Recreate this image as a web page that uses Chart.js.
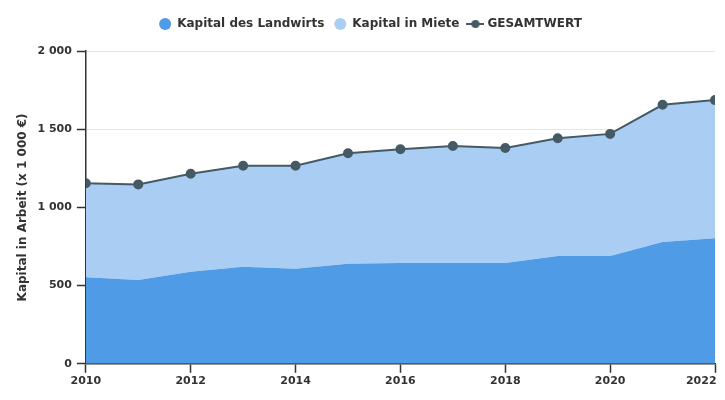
<!DOCTYPE html>
<html lang="de">
<head>
    <meta charset="UTF-8">
    <title>Kapital in Arbeit</title>
    <style>
        body {
            margin: 0;
            padding: 0;
        }
        #wrap {
            width: 725px;
            height: 400px;
        }
    </style>
    <script src="https://cdn.jsdelivr.net/npm/chart.js@4/dist/chart.umd.min.js"></script>
</head>
<body>
<div id="wrap">
    <canvas id="chart"></canvas>
</div>
<script>
    var years = [2010, 2011, 2012, 2013, 2014, 2015, 2016, 2017, 2018, 2019, 2020, 2021, 2022];
    var kapitalLandwirt = [553, 536, 588, 620, 607, 639, 645, 645, 645, 690, 690, 778, 803];
    var kapitalMiete = [601, 611, 627, 646, 659, 707, 727, 748, 735, 752, 780, 878, 883];
    var gesamtwert = [1154, 1147, 1215, 1266, 1266, 1346, 1372, 1393, 1380, 1442, 1470, 1656, 1686];
    var yTicks = [0, 500, 1000, 1500, 2000];

    var dark = '#333333';
    var lineColor = '#455a64';

    function pts(values) {
        return values.map(function (v, i) { return { x: years[i], y: v }; });
    }

    function fmt(n) {
        return String(n).replace(/\B(?=(\d{3})+(?!\d))/g, ' ');
    }

    // Legendensymbol: Linie mit Punkt
    var lineIcon = document.createElement('canvas');
    lineIcon.width = 18;
    lineIcon.height = 10;
    var ic = lineIcon.getContext('2d');
    ic.strokeStyle = lineColor;
    ic.lineWidth = 2;
    ic.beginPath();
    ic.moveTo(0, 5);
    ic.lineTo(18, 5);
    ic.stroke();
    ic.fillStyle = lineColor;
    ic.beginPath();
    ic.arc(9, 5, 4, 0, Math.PI * 2);
    ic.fill();

    // etwas mehr Abstand unter der Legende
    var legendGap = {
        id: 'legendGap',
        beforeInit: function (chart) {
            var fit = chart.legend.fit;
            chart.legend.fit = function () {
                fit.bind(chart.legend)();
                this.height += 11;
            };
        }
    };

    Chart.defaults.font.family = '"DejaVu Sans", sans-serif';
    Chart.defaults.font.weight = 'bold';
    Chart.defaults.color = dark;

    new Chart(document.getElementById('chart'), {
        type: 'line',
        plugins: [legendGap],
        data: {
            datasets: [
                {
                    label: 'Kapital des Landwirts',
                    data: pts(kapitalLandwirt),
                    stack: 'kapital',
                    fill: 'origin',
                    backgroundColor: '#4f9be5',
                    borderColor: '#4f9be5',
                    borderWidth: 0,
                    pointRadius: 0,
                    pointStyle: 'circle',
                    order: 1
                },
                {
                    label: 'Kapital in Miete',
                    data: pts(kapitalMiete),
                    stack: 'kapital',
                    fill: '-1',
                    backgroundColor: '#aacef3',
                    borderColor: '#aacef3',
                    borderWidth: 0,
                    pointRadius: 0,
                    pointStyle: 'circle',
                    order: 1
                },
                {
                    label: 'GESAMTWERT',
                    data: pts(gesamtwert),
                    stack: 'gesamt',
                    fill: false,
                    borderColor: lineColor,
                    backgroundColor: lineColor,
                    borderWidth: 2,
                    pointRadius: 4,
                    pointHoverRadius: 5,
                    pointStyle: 'circle',
                    order: 0
                }
            ]
        },
        options: {
            responsive: true,
            maintainAspectRatio: false,
            animation: false,
            layout: { padding: { left: 16, right: 0, top: 8, bottom: 10 } },
            plugins: {
                legend: {
                    position: 'top',
                    labels: {
                        usePointStyle: true,
                        boxHeight: 8.5,
                        padding: 10,
                        font: { size: 12, weight: 'bold' },
                        sort: function (a, b) { return a.datasetIndex - b.datasetIndex; },
                        generateLabels: function (chart) {
                            var items = Chart.defaults.plugins.legend.labels.generateLabels(chart);
                            items.forEach(function (it) {
                                var ds = chart.data.datasets[it.datasetIndex];
                                if (it.datasetIndex === 2) {
                                    it.pointStyle = lineIcon;
                                } else {
                                    it.fillStyle = ds.backgroundColor;
                                    it.strokeStyle = ds.backgroundColor;
                                    it.lineWidth = 0;
                                }
                            });
                            return items;
                        }
                    }
                },
                tooltip: { enabled: true }
            },
            scales: {
                x: {
                    type: 'linear',
                    min: 2010,
                    max: 2022,
                    afterBuildTicks: function (s) {
                        s.ticks = years.filter(function (y) { return y % 2 === 0; }).map(function (y) { return { value: y }; });
                    },
                    afterFit: function (s) {
                        s.paddingRight = 10;
                    },
                    ticks: {
                        font: { size: 11, weight: 'bold' },
                        padding: 2,
                        maxRotation: 0,
                        callback: function (v) {
                            return v === 2022 ? '2022\u2003\u2003\u2002' : String(v);
                        }
                    },
                    grid: {
                        drawOnChartArea: false,
                        drawTicks: true,
                        tickLength: 9,
                        tickColor: dark,
                        tickWidth: 1.5
                    },
                    border: { color: dark, width: 1.5 }
                },
                y: {
                    stacked: true,
                    min: 0,
                    max: 2000,
                    afterBuildTicks: function (s) {
                        s.ticks = yTicks.map(function (v) { return { value: v }; });
                    },
                    ticks: {
                        font: { size: 11, weight: 'bold' },
                        padding: 5,
                        callback: function (v) { return fmt(v); }
                    },
                    grid: {
                        color: '#e6e6e6',
                        tickColor: dark,
                        tickLength: 9,
                        tickWidth: 1.5
                    },
                    border: { color: dark, width: 1.5 },
                    title: {
                        display: true,
                        text: 'Kapital in Arbeit (x 1 000 €)',
                        font: { size: 12, weight: 'bold' },
                        padding: { top: 0, bottom: 2 }
                    }
                }
            }
        }
    });
</script>
</body>
</html>
